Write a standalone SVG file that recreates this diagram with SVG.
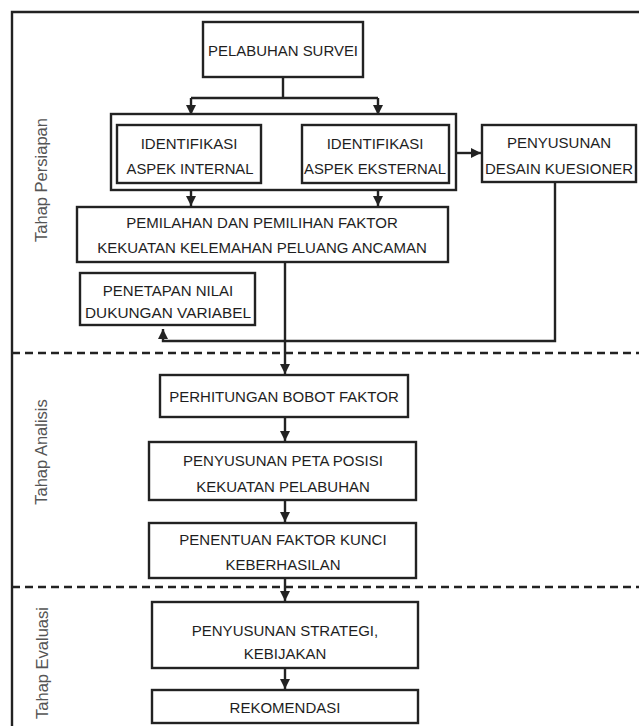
<svg xmlns="http://www.w3.org/2000/svg" width="639" height="726" viewBox="0 0 639 726">
<style>
.box{fill:#fff;stroke:#222;stroke-width:2.4}
.ln{fill:none;stroke:#222;stroke-width:2.4}
.dash{fill:none;stroke:#222;stroke-width:2.5;stroke-dasharray:8 5}
text{font-family:"Liberation Sans",Arial,sans-serif;font-size:15px;fill:#1e1e1e;text-anchor:middle;dominant-baseline:central}
.ph{fill:#555;font-size:16.5px}
</style>
<defs>
<marker id="ah" viewBox="0 0 10 10" refX="10" refY="5" markerWidth="10" markerHeight="10" markerUnits="userSpaceOnUse" orient="auto">
<path d="M0,0 L10,5 L0,10 z" fill="#222"/>
</marker>
</defs>
<rect width="639" height="726" fill="#fff"/>
<g id="frame">
<path class="ln" d="M639,12 H12 V726"/>
<path class="dash" d="M12,353 H639"/>
<path class="dash" d="M12,587 H639"/>
<text class="ph" transform="translate(41,180) rotate(-90)">Tahap Persiapan</text>
<text class="ph" transform="translate(41,452) rotate(-90)">Tahap Analisis</text>
<text class="ph" transform="translate(42,663) rotate(-90)">Tahap Evaluasi</text>
</g>
<g id="connectors">
<path class="ln" d="M283,77 V98 M191,98 H378"/>
<path class="ln" d="M191,98 V115" marker-end="url(#ah)"/>
<path class="ln" d="M378,98 V115" marker-end="url(#ah)"/>
<path class="ln" d="M456,153 H481" marker-end="url(#ah)"/>
<path class="ln" d="M191,190 V206" marker-end="url(#ah)"/>
<path class="ln" d="M378,190 V206" marker-end="url(#ah)"/>
<path class="ln" d="M555,182 V341 H163 V329" marker-end="url(#ah)"/>
<path class="ln" d="M285,262 V374" marker-end="url(#ah)"/>
<path class="ln" d="M285,417 V441" marker-end="url(#ah)"/>
<path class="ln" d="M285,500 V522" marker-end="url(#ah)"/>
<path class="ln" d="M285,578 V601" marker-end="url(#ah)"/>
<path class="ln" d="M285,668 V689" marker-end="url(#ah)"/>
</g>
<g id="pelabuhan-survei">
<rect class="box" x="203" y="22" width="160" height="55"/>
<text x="283" y="50" textLength="150" lengthAdjust="spacingAndGlyphs">PELABUHAN SURVEI</text>
</g>
<g id="identifikasi-group">
<rect class="box" x="111" y="114" width="345" height="76"/>
</g>
<g id="aspek-internal">
<rect class="box" x="117" y="125" width="144" height="58"/>
<text x="189" y="143">IDENTIFIKASI</text>
<text x="190" y="168" textLength="127" lengthAdjust="spacingAndGlyphs">ASPEK INTERNAL</text>
</g>
<g id="aspek-eksternal">
<rect class="box" x="302" y="125" width="147" height="58"/>
<text x="375" y="143">IDENTIFIKASI</text>
<text x="375" y="168" textLength="142" lengthAdjust="spacingAndGlyphs">ASPEK EKSTERNAL</text>
</g>
<g id="desain-kuesioner">
<rect class="box" x="482" y="125" width="154" height="57"/>
<text x="559" y="142">PENYUSUNAN</text>
<text x="559" y="168" textLength="148" lengthAdjust="spacingAndGlyphs">DESAIN KUESIONER</text>
</g>
<g id="pemilahan">
<rect class="box" x="77" y="207" width="371" height="55"/>
<text x="262" y="222">PEMILAHAN DAN PEMILIHAN FAKTOR</text>
<text x="262" y="247">KEKUATAN KELEMAHAN PELUANG ANCAMAN</text>
</g>
<g id="penetapan">
<rect class="box" x="80" y="273" width="175" height="52"/>
<text x="168" y="290">PENETAPAN NILAI</text>
<text x="168" y="312" textLength="166" lengthAdjust="spacingAndGlyphs">DUKUNGAN VARIABEL</text>
</g>
<g id="perhitungan">
<rect class="box" x="160" y="375" width="248" height="42"/>
<text x="284" y="396">PERHITUNGAN BOBOT FAKTOR</text>
</g>
<g id="peta-posisi">
<rect class="box" x="149" y="442" width="267" height="58"/>
<text x="283" y="460">PENYUSUNAN PETA POSISI</text>
<text x="283" y="486">KEKUATAN PELABUHAN</text>
</g>
<g id="faktor-kunci">
<rect class="box" x="149" y="523" width="267" height="55"/>
<text x="283" y="539">PENENTUAN FAKTOR KUNCI</text>
<text x="283" y="564">KEBERHASILAN</text>
</g>
<g id="strategi">
<rect class="box" x="152" y="602" width="266" height="66"/>
<text x="285" y="630">PENYUSUNAN STRATEGI,</text>
<text x="285" y="653">KEBIJAKAN</text>
</g>
<g id="rekomendasi">
<rect class="box" x="152" y="690" width="266" height="33"/>
<text x="285" y="707">REKOMENDASI</text>
</g>
</svg>
